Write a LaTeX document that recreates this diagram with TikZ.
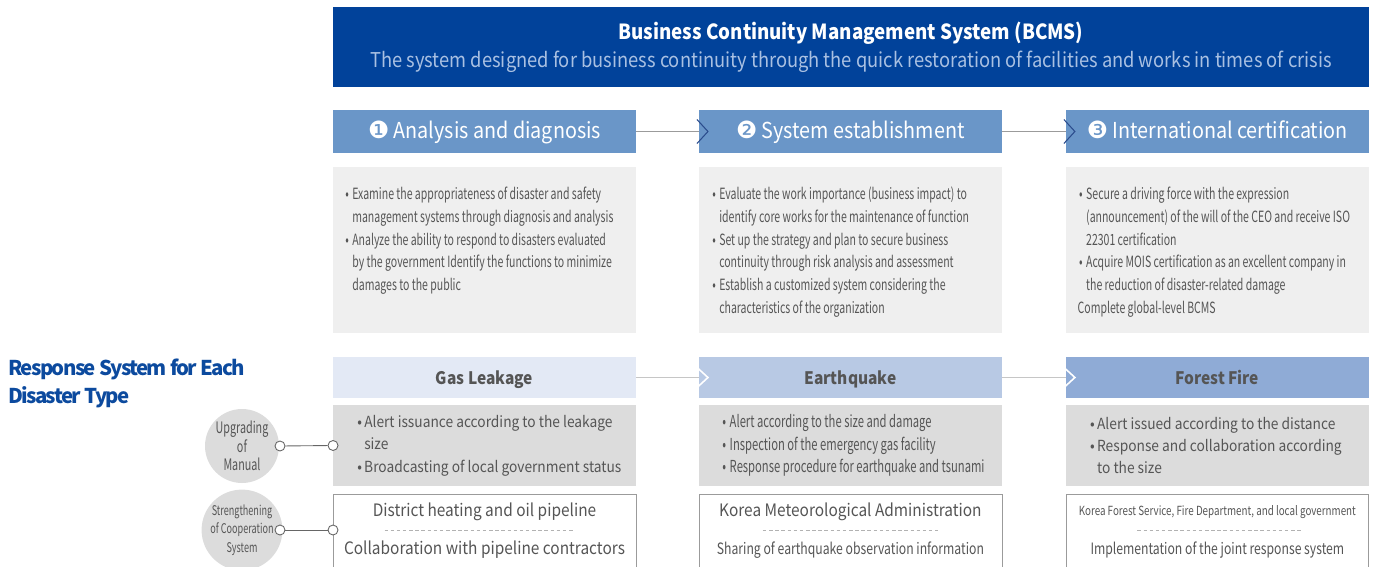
\documentclass[tikz,border=0pt]{standalone}
\usepackage{fontspec}
\usepackage{tikz}
\usetikzlibrary{positioning}
\setmainfont{Noto Sans CJK KR}[FakeStretch=0.9]
\newfontfamily\condfont{Noto Sans CJK KR}[FakeStretch=0.78]
\newfontfamily\descfont{Noto Sans CJK KR}[FakeStretch=0.68]
\newfontfamily\tightfont{Noto Sans CJK KR}[LetterSpace=-8]
\newfontfamily\dingfont{DejaVu Sans}

\definecolor{bannerblue}{HTML}{01429A}
\definecolor{subblue}{HTML}{A9C0E2}
\definecolor{stepblue}{HTML}{6A96C8}
\definecolor{descgray}{HTML}{EFEFEF}
\definecolor{txtgray}{HTML}{555555}
\definecolor{boxgray}{HTML}{DCDCDC}
\definecolor{gasblue}{HTML}{E3E9F5}
\definecolor{quakeblue}{HTML}{B8C9E4}
\definecolor{fireblue}{HTML}{8FABD6}
\definecolor{chevblue}{HTML}{2B4C8C}
\definecolor{titleblue}{HTML}{0C4A9E}
\definecolor{linegray}{HTML}{9B9B9B}

\newcommand{\bl}{\makebox[0.45em][l]{•}}
\newcommand{\ind}{\hspace*{0.45em}}
\newcommand{\num}[1]{{\dingfont\fontsize{13.5}{14}\selectfont #1}}

\begin{document}
\begin{tikzpicture}[x=0.02cm, y=-0.02cm]
    \tikzstyle{banner} = [rectangle, minimum width=20.72cm, minimum height=1.6cm, fill=bannerblue, outer sep=0]
    \tikzstyle{stephead} = [rectangle, minimum width=6.06cm, minimum height=0.86cm, fill=stepblue, text=white, outer sep=0, text height=1em, text depth=0.2em, inner ysep=0, font=\fontsize{12.5}{14}\selectfont]
    \tikzstyle{descbox} = [rectangle, minimum width=6.06cm, minimum height=3.32cm, fill=descgray, outer sep=0]
    \tikzstyle{desctext} = [anchor=north west, inner sep=0, align=left, text=txtgray, font=\descfont\fontsize{8.8}{12.9}\selectfont]
    \tikzstyle{typehead} = [rectangle, minimum width=6.06cm, minimum height=0.82cm, text=txtgray, outer sep=0, text height=0.95em, text depth=0.2em, inner ysep=0, font=\bfseries\fontsize{9.8}{12}\selectfont]
    \tikzstyle{graybox} = [rectangle, minimum width=6.06cm, minimum height=1.62cm, fill=boxgray, outer sep=0]
    \tikzstyle{graytext} = [anchor=west, inner sep=0, align=left, text=txtgray, font=\fontsize{8.7}{12.75}\selectfont]
    \tikzstyle{whitebox} = [rectangle, minimum width=6.06cm, minimum height=1.6cm, draw=linegray, fill=white, outer sep=0, anchor=north]
    \tikzstyle{wtext} = [inner sep=0, text=txtgray, font=\fontsize{9.75}{11}\selectfont]
    \tikzstyle{sidecircle} = [circle, minimum size=1.48cm, fill=boxgray, text=txtgray, inner sep=0, align=center, font=\descfont\fontsize{7.6}{10.5}\selectfont]
    \tikzstyle{dot} = [circle, minimum size=0.2cm, inner sep=0, draw=gray!80!black, fill=white, line width=0.5pt]
    \tikzstyle{link} = [linegray, line width=0.6pt]
    \tikzstyle{chev} = [chevblue, line width=0.6pt]

    \useasboundingbox (0,0) rectangle (1377,566);

    % BCMS banner
    \node (bcms) [banner] at (851,47) {};
    \node (bcmstitle) [text=white, font=\bfseries\fontsize{11.85}{14}\selectfont] at (851,33) {Business Continuity Management System (BCMS)};
    \node (bcmssub) [text=subblue, font=\fontsize{11.6}{14}\selectfont] at (851,62) {The system designed for business continuity through the quick restoration of facilities and works in times of crisis};

    % three steps
    \node (an) [stephead] at (484.5,131.5) {\num{❶} Analysis and diagnosis};
    \node (es) [stephead, right=1.26cm of an] {\num{❷} System establishment};
    \node (ic) [stephead, right=1.28cm of es] {\num{❸} International certification};

    \draw [link] (an) -- (es);
    \draw [link] (es) -- (ic);
    \draw [chev] ([xshift=-0.04cm, yshift=0.24cm]es.west) -- ([xshift=0.18cm]es.west) -- ([xshift=-0.04cm, yshift=-0.24cm]es.west);
    \draw [chev] ([xshift=-0.04cm, yshift=0.24cm]ic.west) -- ([xshift=0.18cm]ic.west) -- ([xshift=-0.04cm, yshift=-0.24cm]ic.west);

    \node (andesc) [descbox, below=0.28cm of an] {};
    \node (esdesc) [descbox, below=0.28cm of es] {};
    \node (icdesc) [descbox, below=0.28cm of ic] {};

    \node (andesctext) [desctext] at ([xshift=0.24cm, yshift=-0.4cm]andesc.north west) {\bl Examine the appropriateness of disaster and safety\\
        \ind management systems through diagnosis and analysis\\
        \bl Analyze the ability to respond to disasters evaluated\\
        \ind by the government Identify the functions to minimize\\
        \ind damages to the public};
    \node (esdesctext) [desctext] at ([xshift=0.26cm, yshift=-0.4cm]esdesc.north west) {\bl Evaluate the work importance (business impact) to\\
        \ind identify core works for the maintenance of function\\
        \bl Set up the strategy and plan to secure business\\
        \ind continuity through risk analysis and assessment\\
        \bl Establish a customized system considering the\\
        \ind characteristics of the organization};
    \node (icdesctext) [desctext] at ([xshift=0.26cm, yshift=-0.4cm]icdesc.north west) {\bl Secure a driving force with the expression\\
        \ind (announcement) of the will of the CEO and receive ISO\\
        \ind 22301 certification\\
        \bl Acquire MOIS certification as an excellent company in\\
        \ind the reduction of disaster-related damage\\
        \hspace*{-0.1em}Complete global-level BCMS};

    % response system for each disaster type
    \node (rstitle) [anchor=west, align=left, inner sep=0, text=titleblue, font=\tightfont\bfseries\fontsize{11.6}{16}\selectfont] at (8,383) {Response System for Each\\Disaster Type};

    \node (gas) [typehead, fill=gasblue] at (484.5,377.5) {Gas Leakage};
    \node (quake) [typehead, fill=quakeblue, right=1.26cm of gas] {Earthquake};
    \node (fire) [typehead, fill=fireblue, right=1.28cm of quake] {Forest Fire};

    \draw [link, gray!45] (gas) -- (quake);
    \draw [link, gray!45] (quake) -- (fire);
    \draw [white, line width=0.9pt] ([xshift=-0.06cm, yshift=0.22cm]quake.west) -- ([xshift=0.18cm]quake.west) -- ([xshift=-0.06cm, yshift=-0.22cm]quake.west);
    \draw [white, line width=0.9pt] ([xshift=-0.06cm, yshift=0.22cm]fire.west) -- ([xshift=0.18cm]fire.west) -- ([xshift=-0.06cm, yshift=-0.22cm]fire.west);

    \node (gasbox) [graybox, below=0.14cm of gas] {};
    \node (quakebox) [graybox, below=0.14cm of quake] {};
    \node (firebox) [graybox, below=0.14cm of fire] {};

    \node (gastext) [graytext] at ([xshift=0.48cm]gasbox.west) {\bl Alert issuance according to the leakage\\
        \ind size\\
        \bl Broadcasting of local government status};
    \node (quaketext) [graytext, font=\descfont\fontsize{9.4}{12.75}\selectfont] at ([xshift=0.46cm]quakebox.west) {\bl Alert according to the size and damage\\
        \bl Inspection of the emergency gas facility\\
        \bl Response procedure for earthquake and tsunami};
    \node (firetext) [graytext] at ([xshift=0.48cm]firebox.west) {\bl Alert issued according to the distance\\
        \bl Response and collaboration according\\
        \ind to the size};

    \node (gascoop) [whitebox] at ([yshift=-0.16cm]gasbox.south) {};
    \node (quakecoop) [whitebox] at ([yshift=-0.16cm]quakebox.south) {};
    \node (firecoop) [whitebox] at ([yshift=-0.16cm]firebox.south) {};

    \node (gascoopa) [wtext] at ([yshift=-0.36cm]gascoop.north) {District heating and oil pipeline};
    \node (gascoopb) [wtext] at ([yshift=-1.12cm]gascoop.north) {Collaboration with pipeline contractors};
    \node (quakecoopa) [wtext] at ([yshift=-0.36cm]quakecoop.north) {Korea Meteorological Administration};
    \node (quakecoopb) [wtext, font=\condfont\fontsize{8.9}{11}\selectfont] at ([yshift=-1.12cm]quakecoop.north) {Sharing of earthquake observation information};
    \node (firecoopa) [wtext, font=\condfont\fontsize{7.15}{10}\selectfont] at ([yshift=-0.36cm]firecoop.north) {Korea Forest Service, Fire Department, and local government};
    \node (firecoopb) [wtext, font=\condfont\fontsize{8.9}{11}\selectfont] at ([yshift=-1.12cm]firecoop.north) {Implementation of the joint response system};

    \draw [gray!60, dash pattern=on 2pt off 1.5pt, line width=0.4pt] ([xshift=-2cm, yshift=-0.72cm]gascoop.north) -- ([xshift=1.8cm, yshift=-0.72cm]gascoop.north);
    \draw [gray!60, dash pattern=on 2pt off 1.5pt, line width=0.4pt] ([xshift=-1.75cm, yshift=-0.72cm]quakecoop.north) -- ([xshift=1.75cm, yshift=-0.72cm]quakecoop.north);
    \draw [gray!60, dash pattern=on 2pt off 1.5pt, line width=0.4pt] ([xshift=-1.6cm, yshift=-0.72cm]firecoop.north) -- ([xshift=1.7cm, yshift=-0.72cm]firecoop.north);

    % side circles
    \node (manual) [sidecircle, font=\descfont\fontsize{9}{10.5}\selectfont] at (242,446) {Upgrading\\of\\Manual};
    \node (coop) [sidecircle] at (242,530) {Strengthening\\of Cooperation\\System};

    \node (manualdot) [dot] at (280,446) {};
    \node (manualend) [dot] at (gasbox.west) {};
    \node (coopdot) [dot] at (280,530) {};
    \node (coopend) [dot] at (333,530) {};

    \draw [gray!80!black, line width=0.5pt] (manualdot) -- (manualend);
    \draw [gray!80!black, line width=0.5pt] (coopdot) -- (coopend);
\end{tikzpicture}
\end{document}
